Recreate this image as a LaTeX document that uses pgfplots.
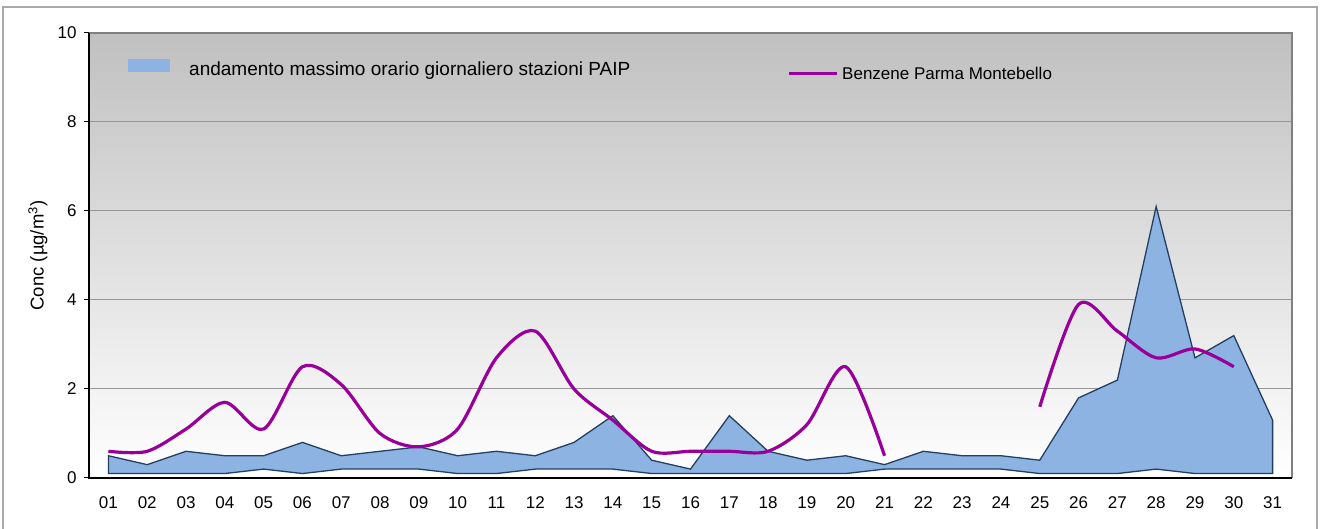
\documentclass[border=0pt]{standalone}
\usepackage{fontspec}
\setmainfont{Liberation Sans}
\usepackage{pgfplots}
\pgfplotsset{compat=1.18}
\definecolor{areafill}{RGB}{141,179,226}
\definecolor{areaedge}{RGB}{36,63,96}
\definecolor{benz}{RGB}{153,0,153}
\definecolor{bgtop}{RGB}{192,192,192}
\definecolor{gridc}{RGB}{150,150,150}
\definecolor{framec}{RGB}{170,170,170}
\definecolor{topframe}{RGB}{128,128,128}
\newcommand{\chartfont}{\fontsize{17bp}{20bp}\selectfont}
\begin{document}
\begin{tikzpicture}[x=1bp,y=1bp]
\useasboundingbox (0,0) rectangle (1331,529);
\fill[white] (0,0) rectangle (1331,529);
\draw[framec, line width=1.5bp] (3,-10) rectangle (1317,522);
\begin{axis}[
  at={(89bp,51bp)}, anchor=south west,
  width=1203bp, height=445bp, scale only axis,
  xmin=0.5, xmax=31.5, ymin=0, ymax=10,
  xtick={1,...,31},
  xticklabels={01,02,03,04,05,06,07,08,09,10,11,12,13,14,15,16,17,18,19,20,21,22,23,24,25,26,27,28,29,30,31},
  ytick={0,2,4,6,8,10},
  ytick pos=left,
  axis background/.style={top color=bgtop, bottom color=white},
  axis line style={draw=none},
  ymajorgrids, grid style={gridc, line width=1bp},
  tick align=outside,
  major tick length=5bp,
  xtick style={draw=none},
  ytick style={black, line width=1bp},
  ticklabel style={font=\chartfont},
  label style={font=\fontsize{18.5bp}{21bp}\selectfont},
  /pgf/number format/assume math mode=true,
  xticklabel style={yshift=-10bp},
  yticklabel style={xshift=-4bp},
  ylabel={Conc (µg/m\textsuperscript{3})},
  ylabel style={at={(axis description cs:-0.0424,0.5)}, anchor=center},
  clip=false,
]
\addplot[fill=areafill, draw=areaedge, line width=1.3bp] coordinates {
(1,0.5)(2,0.3)(3,0.6)(4,0.5)(5,0.5)(6,0.8)(7,0.5)(8,0.6)(9,0.7)(10,0.5)
(11,0.6)(12,0.5)(13,0.8)(14,1.4)(15,0.4)(16,0.2)(17,1.4)(18,0.6)(19,0.4)(20,0.5)
(21,0.3)(22,0.6)(23,0.5)(24,0.5)(25,0.4)(26,1.8)(27,2.2)(28,6.1)(29,2.7)(30,3.2)(31,1.3)
(31,0.1)(30,0.1)(29,0.1)(28,0.2)(27,0.1)(26,0.1)(25,0.1)(24,0.2)(23,0.2)(22,0.2)
(21,0.2)(20,0.1)(19,0.1)(18,0.1)(17,0.1)(16,0.1)(15,0.1)(14,0.2)(13,0.2)(12,0.2)
(11,0.1)(10,0.1)(9,0.2)(8,0.2)(7,0.2)(6,0.1)(5,0.2)(4,0.1)(3,0.1)(2,0.1)(1,0.1)
} -- cycle;
\addplot[benz, line width=3.2bp, smooth] coordinates {
(1,0.6)(2,0.6)(3,1.1)(4,1.7)(5,1.1)(6,2.5)(7,2.1)(8,1.0)(9,0.7)(10,1.1)
(11,2.7)(12,3.3)(13,2.0)(14,1.3)(15,0.6)(16,0.6)(17,0.6)(18,0.6)(19,1.2)(20,2.5)(21,0.5)
};
\addplot[benz, line width=3.2bp, smooth] coordinates {
(25,1.6)(26,3.9)(27,3.3)(28,2.7)(29,2.9)(30,2.5)
};
\draw[topframe, line width=2bp] (rel axis cs:0,1) -- (rel axis cs:1,1) -- (rel axis cs:1,0);
\draw[black, line width=1.5bp] (rel axis cs:0,1) -- (rel axis cs:0,0) -- (rel axis cs:1,0);
\end{axis}
\fill[areafill] (128,457) rectangle (170,470);
\node[anchor=base west, inner sep=0, font=\fontsize{19bp}{22bp}\selectfont] at (189,453) {andamento massimo orario giornaliero stazioni PAIP};
\draw[benz, line width=3.2bp] (789,455.7) -- (837,455.7);
\node[anchor=base west, inner sep=0, font=\chartfont] at (842,449) {Benzene Parma Montebello};
\end{tikzpicture}
\end{document}
